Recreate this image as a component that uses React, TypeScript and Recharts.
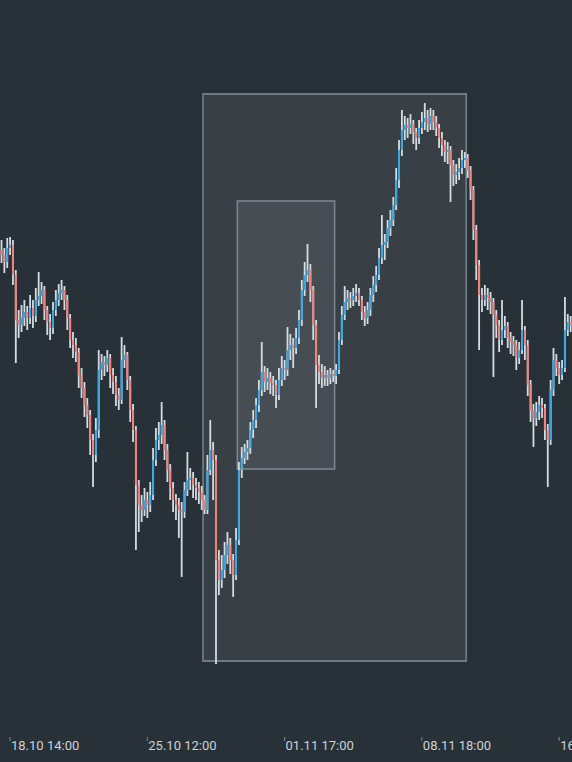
import React from 'react'
import { BarChart, Bar, XAxis, YAxis, ReferenceArea } from 'recharts'

// OHLC per bar (arbitrary price units)
const open = [
  550,545,538,552,555,525,480,475,482,488,482,492,484,500,504,510,490,478,472,490,
  500,507,510,500,482,460,455,448,425,412,395,385,360,345,370,430,438,435,442,425,
  418,405,400,440,445,420,390,370,315,295,290,300,295,305,340,360,365,375,350,330,
  312,300,295,290,288,310,320,322,315,312,308,300,290,330,350,340,240,220,230,245,
  255,240,225,260,330,342,348,352,370,380,395,410,428,418,422,417,415,405,420,432,
  430,450,455,452,462,480,510,525,530,510,475,435,428,422,425,422,426,424,430,460,
  485,498,502,500,504,507,500,488,482,490,505,515,525,542,555,558,572,580,595,620,
  650,670,675,672,676,668,662,672,678,682,676,684,678,672,662,655,648,650,635,625,
  628,632,640,642,630,610,570,535,505,500,505,502,498,485,475,460,470,474,462,458,
  455,442,450,470,455,415,390,382,388,395,392,370,360,410,440,432,425,432,470,478,
]
const high = [
  560,552,562,563,560,530,490,495,500,494,505,500,512,528,518,514,494,486,498,510,
  516,520,514,505,486,468,462,452,432,418,402,390,366,382,450,446,444,450,446,432,
  424,412,463,455,448,424,396,374,320,305,312,308,318,352,372,378,398,380,356,336,
  318,306,302,298,318,348,332,328,322,318,314,305,345,380,358,345,250,245,258,268,
  262,246,272,338,353,356,360,378,390,402,420,458,434,432,428,424,420,432,444,440,
  473,466,462,472,490,520,538,556,536,514,480,445,436,434,430,432,430,436,468,494,
  514,510,508,512,516,512,504,494,498,512,524,534,552,585,566,580,590,603,632,660,
  690,684,682,686,680,672,680,688,697,690,692,690,684,676,668,660,658,654,640,636,
  642,650,648,646,634,614,575,540,512,515,512,508,502,490,480,500,484,478,468,464,
  460,458,500,474,460,420,396,398,404,402,396,376,420,452,446,438,440,503,486,484,
]
const low = [
  537,527,532,545,515,437,462,468,474,470,476,472,478,494,496,480,465,460,466,484,
  494,500,490,470,452,442,438,412,402,383,372,345,313,338,362,420,424,428,412,406,
  394,390,396,432,410,378,358,250,268,278,284,282,288,300,334,350,356,340,318,300,
  288,280,262,223,282,304,310,302,300,296,290,286,286,325,300,136,205,212,222,236,
  226,203,220,255,322,336,340,346,362,372,388,404,408,410,406,404,392,400,414,420,
  424,440,432,446,456,474,504,518,498,460,392,416,412,414,414,416,418,416,426,455,
  480,490,492,494,498,494,480,474,476,484,498,508,520,536,540,552,564,574,590,612,
  644,660,662,666,656,650,656,666,670,668,670,670,664,652,644,638,636,598,614,616,
  620,626,632,622,600,560,520,450,488,494,490,486,423,462,448,455,462,452,446,444,
  430,436,446,440,404,378,353,374,380,382,360,313,355,404,424,416,420,428,464,468,
]
const close = [
  545,538,552,555,525,480,475,482,488,482,492,484,500,504,510,490,478,472,490,500,
  507,510,500,482,460,455,448,425,412,395,385,360,345,370,430,438,435,442,425,418,
  405,400,440,445,420,390,370,315,295,290,300,295,305,340,360,365,375,350,330,312,
  300,295,290,288,310,320,322,315,312,308,300,290,330,350,340,240,220,230,245,255,
  240,225,260,330,342,348,352,370,380,395,410,428,418,422,417,415,405,420,432,430,
  450,455,452,462,480,510,525,530,510,475,435,428,422,425,422,426,424,430,460,485,
  498,502,500,504,507,500,488,482,490,505,515,525,542,555,558,572,580,595,620,650,
  670,675,672,676,668,662,672,678,682,676,684,678,672,662,655,648,650,635,625,628,
  632,640,642,630,610,570,535,505,500,505,502,498,485,475,460,470,474,462,458,455,
  442,450,470,455,415,390,382,388,395,392,370,360,410,440,432,425,432,470,478,475,
]

// bar index -> axis label
const tickIdx = [3, 51, 99, 147, 195]
const tickLabels = ['18.10 14:00', '25.10 12:00', '01.11 17:00', '08.11 18:00', '16.11 14:00']

// highlighted zones: bar range + price range
const zoneFrom = [71, 83]
const zoneTo = [162, 116]
const zoneTop = [706, 599]
const zoneBottom = [139, 331]

const data = close.map((c, i) => ({ i, o: open[i], h: high[i], l: low[i], c, range: [low[i], high[i]] }))

const UP = '#3ba6e3'
const DOWN = '#f2807c'
const WICK = '#d2dce1'

function Candle(props: any) {
  const { x, y, width, height, payload } = props
  if (payload == null) return null
  const top = Math.min(y, y + height)
  const h = Math.abs(height)
  const k = h / (payload.h - payload.l || 1)
  const cx = x + width / 2
  const bTop = top + (payload.h - Math.max(payload.o, payload.c)) * k
  const bH = Math.max(1, Math.abs(payload.o - payload.c) * k)
  return (
    <g>
      <rect x={cx - 0.9} y={top} width={1.8} height={h} fill={WICK} />
      <rect x={cx - 1} y={bTop} width={2} height={bH} fill={payload.c >= payload.o ? UP : DOWN} />
    </g>
  )
}

function Tick(props: any) {
  const { x, y, payload } = props
  const n = tickIdx.indexOf(payload.value)
  return (
    <g>
      <line x1={x} x2={x} y1={y - 4} y2={y} stroke="#7d878e" strokeWidth={1} />
      <text x={x + 1} y={y} dy="0.72em" textAnchor="start" fill="#cbd2d6" fontSize={13} fontFamily="Roboto, sans-serif">
        {n >= 0 ? tickLabels[n] : ''}
      </text>
    </g>
  )
}

export default function App() {
  return (
    <div style={{ position: 'fixed', inset: 0, background: '#283138' }}>
      <BarChart width={572} height={762} data={data} margin={{ top: 0, right: 0, bottom: 0, left: 0 }} barCategoryGap={0}>
        <XAxis dataKey="i" type="category" ticks={tickIdx} interval={0} height={25} axisLine={false} tickLine={false} tickSize={4} tickMargin={0} tick={<Tick />} />
        <YAxis hide domain={[63, 800]} allowDataOverflow />
        {zoneFrom.map((f, k) => (
          <ReferenceArea key={k} x1={f} x2={zoneTo[k]} y1={zoneBottom[k]} y2={zoneTop[k]}
            fill="#ffffff" fillOpacity={0.075} stroke={k === 0 ? '#6c7a83' : '#7c8890'} strokeWidth={k === 0 ? 1.8 : 1.5} strokeOpacity={1} />
        ))}
        <Bar dataKey="range" shape={<Candle />} isAnimationActive={false} />
      </BarChart>
    </div>
  )
}
